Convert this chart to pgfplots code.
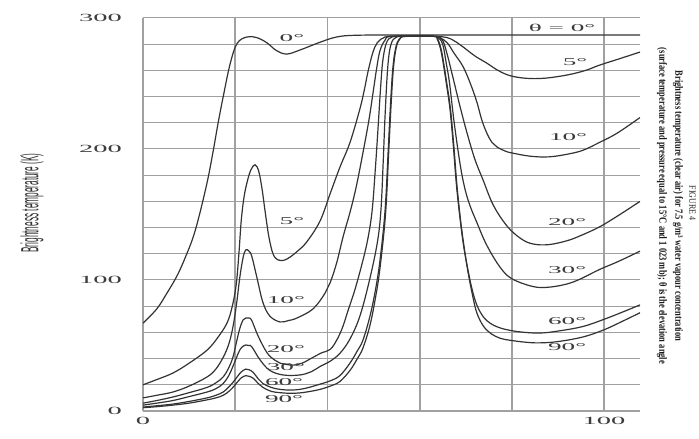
\documentclass[border=0pt]{standalone}
\usepackage{pgfplots}
\pgfplotsset{compat=1.18}
\usepackage{fontspec}
\setmainfont{Liberation Serif}
\newfontfamily\labelsans{Liberation Sans}

\definecolor{curve}{HTML}{333333}
\definecolor{gridc}{HTML}{A0A0A0}
\definecolor{txt}{HTML}{3C3C3C}
% wide, stretched lettering used for ticks and curve labels
\newcommand{\wide}[1]{\scalebox{2.6}[1]{#1}}

\pgfplotsset{tb/.style={draw=curve, solid, line width=1.2bp, smooth, tension=0.6, mark=none}}

\begin{document}
\begin{tikzpicture}
\useasboundingbox (-143bp,-28bp) rectangle (556bp,411bp);
\fill[white] (-143bp,-28bp) rectangle (556bp,411bp);
\begin{axis}[
  at={(0,0)}, anchor=south west,
  scale only axis, width=497bp, height=393bp,
  xmin=0, xmax=107.8, ymin=0, ymax=300,
  axis x line*=bottom, axis y line*=left,
  x axis line style={draw=gridc, line width=1.8bp, -},
  y axis line style={draw=gridc, line width=2.4bp, -},
  xtick={0,100}, minor xtick={20,40,60,80},
  ytick={0,100,200,300},
  minor ytick={20,40,60,80,120,140,160,180,220,240,260,280},
  grid=both,
  x grid style={draw=gridc, line width=1.8bp},
  y grid style={draw=gridc, line width=1bp},
  major tick length=0pt, minor tick length=0pt,
  xticklabels={\wide{0},\wide{100}},
  yticklabels={\wide{0},\wide{100},\wide{200},\wide{300}},
  xticklabel style={font=\fontsize{11}{11}\selectfont, text=txt, anchor=north, inner sep=0pt, yshift=-6bp},
  yticklabel style={font=\fontsize{11}{11}\selectfont, text=txt, anchor=east, inner sep=0pt, xshift=-21bp},
]
% theta = 0 deg
\addplot[tb] coordinates {(0,67)(3,78)(5.2,90)(7.5,104)(9.5,120)(11,134)(12.4,152)(14,176)(15.2,198)(16.3,220)(17.4,240)(18.9,265)(20.4,280.5)(22.5,285.5)(24.7,285)(26.9,281)(29,275)(31.2,272.5)(34,275.5)(38.4,281.5)(42,285.5)(46,286.8)(55,287)(70,287)(90,287)(107.8,287)};
% theta = 5 deg
\addplot[tb] coordinates {(0,20)(3,24)(6.5,29)(10,36.5)(13.9,46.5)(16.2,56)(18.2,67)(19.3,79)(20.2,96)(20.8,120)(21.3,145)(21.9,163)(22.6,175)(23.4,184)(24.3,188)(25.1,183)(25.8,170)(26.5,152)(27.3,133)(28.2,120)(29.2,115.5)(30.5,115)(31.9,117.5)(33.5,122)(35.5,129)(38.4,145)(40.6,166)(42.7,186)(44.9,205)(47,230)(48,245)(48.8,259)(49.8,273)(50.8,281)(52.5,285.5)(55,286)(63,286)(66,285)(68,281.5)(69.4,278)(72,271)(74.6,265.5)(77,260)(79.6,256)(83,254)(87,254)(92,256.5)(96,260)(99,264)(103,268.5)(107.8,274)};
% theta = 10 deg
\addplot[tb] coordinates {(0,10)(3,12)(6.5,14.5)(10,19)(13.9,26)(15.8,32)(17.4,41)(18.6,51)(19.5,64)(20.3,82)(21,102)(21.7,117)(22.3,123)(23,122)(23.6,118)(24.7,102)(26,83)(27.5,72.5)(29.7,68)(31.5,69)(33.4,71)(36.9,78)(39.5,90)(40.6,98)(42,113)(43.4,133)(45,153)(46.3,172)(47.7,197)(49,222)(49.9,243)(50.7,262)(51.4,275)(52.5,283)(54,286)(63,286)(64.4,285)(66,281)(67.5,273)(69.4,263)(71,250)(72.4,236)(73.5,222)(74.6,212)(75.7,205)(76.8,201.5)(78.5,198.5)(80,197)(84,194.5)(88,194)(92,196)(95.4,199)(99,205)(102.8,212)(107.8,224)};
% theta = 20 deg
\addplot[tb] coordinates {(0,6)(3,8)(6.5,10.7)(10,14)(13.9,18)(15.8,21.5)(17.4,26)(18.6,33)(19.5,41)(20.3,53)(21,63)(21.7,69.5)(22.3,71)(23,71)(23.6,69)(25,57)(26.9,44.5)(28.5,39)(29.7,36.6)(32.5,35)(34.5,36.5)(36.9,41)(38.8,44.5)(40.6,47)(42,54)(43.3,64)(44.5,77)(46,93)(47.7,115)(48.8,132)(49.7,153)(50.4,185)(51,217)(51.5,245)(52,267)(52.8,281)(54,285.5)(56,286)(63,286)(64,285.5)(65,283)(66,272)(67.2,255)(68.8,232)(70.3,212)(72,192)(73.8,176)(76,157)(79,141)(82,131.5)(84.6,127.5)(88,127)(92,130)(95,134)(99,140.5)(103,149)(107.8,160)};
% theta = 30 deg
\addplot[tb] coordinates {(0,4.5)(3,6)(6.5,8)(10,11)(13.9,14.5)(15.8,17)(17.4,21)(18.6,27)(19.5,34)(20.3,41)(21,46.6)(21.7,49.5)(22.3,50.4)(23,50)(23.6,49)(25.4,39)(27.5,31)(30.4,27.5)(34,27.5)(36.5,30)(38.4,34)(40.6,38)(42.7,44)(44.9,55)(47,72)(49,98)(50.8,128)(51.6,153)(52.1,190)(52.5,225)(53.1,263)(53.8,280)(55,285.5)(57,286)(63,286)(64,285)(65,280)(65.8,265)(66.5,250)(67.5,220)(68.8,188)(69.8,170)(70.9,157)(72.4,144)(74.5,127)(77.4,110)(80,101)(84.6,95)(88,94.5)(92,97)(95,101)(99,108)(103,114)(107.8,122)};
% theta = 60 deg
\addplot[tb] coordinates {(0,3)(3,4)(6.5,5.3)(10,7.3)(13.9,10)(15.8,12)(17.4,14.5)(18.8,19)(20,24)(21.2,29.5)(22.3,32)(23,31.5)(23.9,29.5)(25,24.5)(26,21)(27.8,18)(29.7,16.5)(32,16)(34,16.5)(36,18)(38.4,20.5)(40.6,23)(42.7,27)(44.9,36.6)(46.5,46)(47.7,54)(49.2,72)(50.4,92)(51.4,115)(52.5,153)(53.2,200)(53.7,235)(54.2,262)(54.8,277)(55.6,284)(57,286)(63,286)(63.8,284)(64.5,277)(65,268)(65.8,250)(66.6,230)(67.3,203)(68,172)(68.8,146)(69.5,127)(70.3,111)(71.3,94)(72.4,81)(73.8,72)(75.3,67)(77,64)(79,62)(82,60.3)(86,59.5)(90,61)(95.4,64.5)(100,70)(104,75.5)(107.8,81)};
% theta = 90 deg
\addplot[tb] coordinates {(0,2.5)(3,3.3)(6.5,4.5)(10,6)(13.9,8.5)(15.8,10)(17.4,12)(18.8,15.5)(20,20)(21.2,25)(22.3,27)(23,26.5)(23.9,25)(25,21)(26,18)(27.8,15)(29.7,14)(32,13.5)(34,13.8)(36,14.8)(38.4,16.5)(40.6,19)(42.7,22.5)(44.9,31)(46.5,40)(47.7,48)(49.2,65)(50.4,86)(51.4,109)(52.6,150)(53.3,198)(53.8,233)(54.3,261)(54.9,277)(55.7,284)(57,286)(63,286)(63.9,284)(64.6,277)(65.1,268)(65.9,250)(66.7,230)(67.4,203)(68.1,172)(68.9,145)(69.7,124)(70.5,106)(71.5,88)(72.4,75)(73.8,65)(75.5,59)(77.5,55.5)(79.6,54)(83,52.5)(86,52)(90,53)(95.4,56.5)(100,62)(104,68.5)(107.8,75)};

% curve labels
\begin{scope}[every node/.style={font=\fontsize{10.5}{10.5}\selectfont, text=txt, inner sep=0pt}]
\node at (axis cs:32.3,285) {\wide{0°}};
\node at (axis cs:90.9,292.4) {\wide{θ = 0°}};
\node at (axis cs:93.7,266) {\wide{5°}};
\node at (axis cs:92.2,209) {\wide{10°}};
\node at (axis cs:92,144) {\wide{20°}};
\node at (axis cs:92,107.6) {\wide{30°}};
\node at (axis cs:92,68.7) {\wide{60°}};
\node at (axis cs:92,49) {\wide{90°}};
\node at (axis cs:32.3,145) {\wide{5°}};
\node at (axis cs:31,84.7) {\wide{10°}};
\node at (axis cs:31,47) {\wide{20°}};
\node at (axis cs:31,33.6) {\wide{30°}};
\node at (axis cs:30.6,22) {\wide{60°}};
\node at (axis cs:30.6,9) {\wide{90°}};
\end{scope}
\end{axis}

% axis title
\node[rotate=90, font=\labelsans\fontsize{8.3}{10}\selectfont, text=black!80, inner sep=0pt]
  at (-111bp,208bp) {\scalebox{1}[3.0]{Brightness temperature (K)}};

% figure caption, set sideways
\node[rotate=-90, font=\fontsize{8}{10}\selectfont, text=black!85, inner sep=0pt]
  at (549.5bp,208bp) {\scalebox{1}[1.2]{FIGURE 4}};
\node[rotate=-90, font=\fontsize{8.5}{10}\bfseries\selectfont, text=black!90, inner sep=0pt]
  at (535bp,205bp) {\scalebox{1}[1.3]{Brightness temperature (clear air) for 7.5 g/m³ water vapour concentration}};
\node[rotate=-90, font=\fontsize{8.5}{10}\bfseries\selectfont, text=black!90, inner sep=0pt]
  at (519bp,205bp) {\scalebox{1}[1.3]{(surface temperature and pressure equal to 15°C and 1 023 mb); θ is the elevation angle}};
\end{tikzpicture}
\end{document}
